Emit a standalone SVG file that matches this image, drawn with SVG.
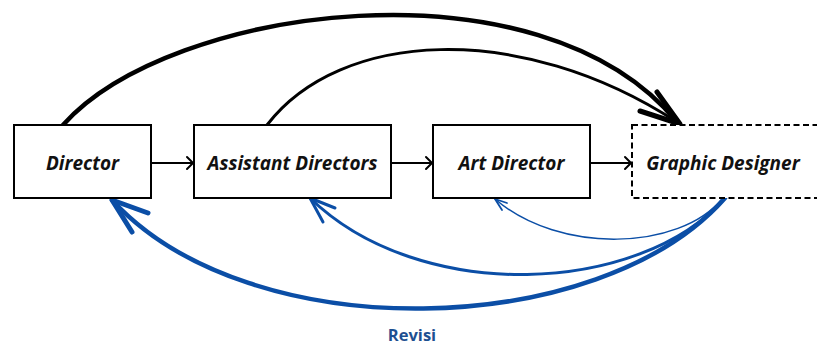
<svg xmlns="http://www.w3.org/2000/svg" width="817" height="345" viewBox="0 0 817 345">
<style>
.box{fill:#fff;stroke:#000;stroke-width:2}
.dash{fill:#fff;stroke:#000;stroke-width:2;stroke-dasharray:6 3.5}
.lbl{font-family:"Open Sans","Liberation Sans",sans-serif;font-weight:700;font-style:italic;font-size:19px;fill:#111;text-anchor:middle}
.k{fill:none;stroke:#000;stroke-linecap:round;stroke-linejoin:round}
.b{fill:none;stroke:#0b4ea6;stroke-linecap:round;stroke-linejoin:round}
.rev{font-family:"Open Sans","Liberation Sans",sans-serif;font-weight:700;font-size:16.5px;fill:#1d4f91;text-anchor:middle}
</style>
<rect width="817" height="345" fill="#fff"/>
<g id="connectors">
  <path class="k" d="M63,125 C170,5 540,-45 677,122" stroke-width="4.5"/>
  <path class="k" d="M267,125 C340,30 520,20 677,122" stroke-width="3"/>
  <path class="k" d="M640,111 L680,124 L657,92" stroke-width="5"/>
  <path class="k" d="M151,163 H193 M187,157 L193,163 L187,169" stroke-width="2"/>
  <path class="k" d="M391,163 H432 M426,157 L432,163 L426,169" stroke-width="2"/>
  <path class="k" d="M590,163 H631 M625,157 L631,163 L625,169" stroke-width="2"/>
  <path class="b" d="M725,198 C600,340 250,350 112,200" stroke-width="4.5"/>
  <path class="b" d="M148,213 L112,200 L132,232" stroke-width="5"/>
  <path class="b" d="M725,198 C640,295 420,305 310,198" stroke-width="3"/>
  <path class="b" d="M335,208 L310,198 L323,222" stroke-width="3"/>
  <path class="b" d="M722,199 C680,250 560,255 495,199" stroke-width="1.5"/>
  <path class="b" d="M507,203 L495,199 L502,210" stroke-width="1.8"/>
</g>
<g id="director">
  <rect class="box" x="14" y="125" width="137" height="73"/>
  <text class="lbl" x="82.5" y="170">Director</text>
</g>
<g id="assistant-directors">
  <rect class="box" x="194" y="125" width="197" height="73"/>
  <text class="lbl" x="292.5" y="170">Assistant Directors</text>
</g>
<g id="art-director">
  <rect class="box" x="433" y="125" width="157" height="73"/>
  <text class="lbl" x="511.5" y="170">Art Director</text>
</g>
<g id="graphic-designer">
  <rect class="dash" x="632" y="125" width="200" height="73"/>
  <text class="lbl" x="723" y="170">Graphic Designer</text>
</g>
<text class="rev" x="412" y="341">Revisi</text>
</svg>
